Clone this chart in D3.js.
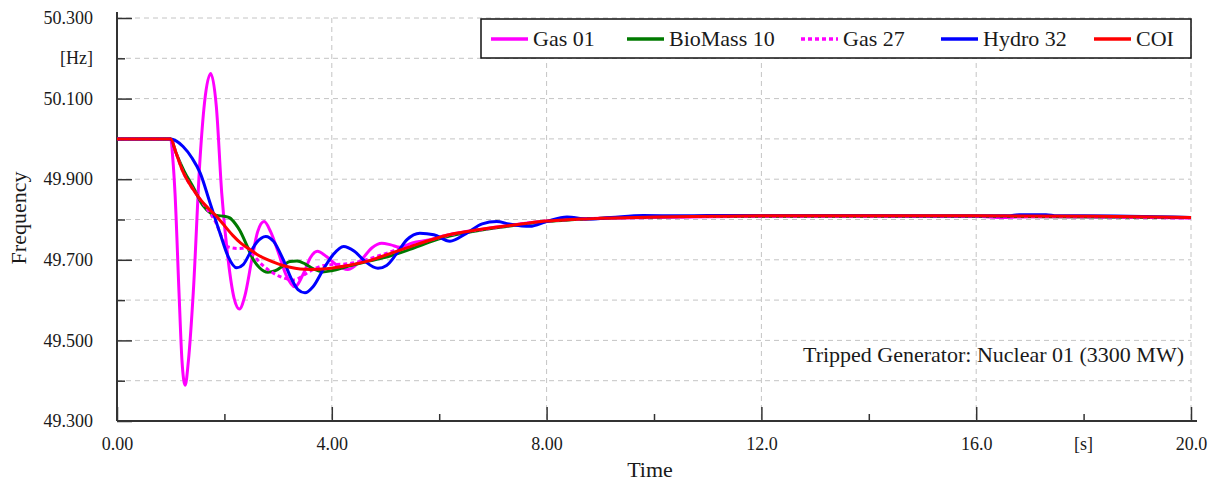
<!DOCTYPE html>
<html>
<head>
<meta charset="utf-8">
<script src="https://cdnjs.cloudflare.com/ajax/libs/d3/7.8.5/d3.min.js"></script>
<style>
    body { margin: 0; background: #fff; }
    #chart-area { width: 1215px; height: 482px; }
    svg text { font-family: "Liberation Serif", "Times New Roman", serif; fill: #1a1a1a; }
</style>
</head>
<body>
<div id="chart-area"></div>
<script>

// frequency traces: [time s, frequency Hz]
let gas01 = [
    [0, 50.0], [1.0, 50.0], [1.04, 49.95], [1.08, 49.866], [1.155, 49.618], [1.21, 49.45], [1.27, 49.389],
    [1.33, 49.45], [1.42, 49.618], [1.545, 49.948], [1.63, 50.09], [1.745, 50.162], [1.85, 50.08],
    [1.95, 49.866], [2.07, 49.70], [2.18, 49.605], [2.28, 49.578], [2.38, 49.61], [2.51, 49.70],
    [2.62, 49.77], [2.74, 49.795], [2.86, 49.77], [3.0, 49.72], [3.15, 49.662], [3.31, 49.633],
    [3.48, 49.668], [3.6, 49.705], [3.73, 49.721], [3.9, 49.708], [4.08, 49.688], [4.3, 49.676],
    [4.55, 49.700], [4.75, 49.730], [4.93, 49.741], [5.1, 49.737], [5.27, 49.731], [5.5, 49.742],
    [5.8, 49.749], [6.1, 49.760], [6.5, 49.770], [7.0, 49.780], [7.5, 49.789], [8.0, 49.796],
    [9.0, 49.803], [10.0, 49.805], [11.0, 49.807], [12.0, 49.808], [14.0, 49.808], [16.0, 49.808],
    [16.5, 49.805], [17.0, 49.807], [18.0, 49.807], [20.0, 49.804]
];

let bioMass10 = [
    [0, 50.0], [1.0, 50.0], [1.1, 49.965], [1.25, 49.92], [1.42, 49.88], [1.6, 49.835], [1.75, 49.815],
    [1.86, 49.81], [2.0, 49.808], [2.1, 49.804], [2.2, 49.79], [2.29, 49.772], [2.42, 49.735],
    [2.54, 49.70], [2.65, 49.681], [2.81, 49.669], [2.95, 49.673], [3.1, 49.686], [3.22, 49.696],
    [3.35, 49.697], [3.5, 49.69], [3.65, 49.678], [3.83, 49.670], [4.0, 49.673], [4.3, 49.684],
    [4.6, 49.694], [5.0, 49.706], [5.5, 49.728], [6.0, 49.752], [6.5, 49.767], [7.0, 49.778],
    [7.5, 49.787], [8.0, 49.795], [9.0, 49.803], [10.0, 49.806], [11.0, 49.808], [12.0, 49.808],
    [16.0, 49.808], [20.0, 49.805]
];

let gas27 = [
    [0, 50.0], [1.0, 50.0], [1.1, 49.965], [1.23, 49.918], [1.4, 49.878], [1.55, 49.85], [1.7, 49.822],
    [1.85, 49.79], [1.95, 49.756], [2.05, 49.733], [2.25, 49.728], [2.42, 49.729], [2.55, 49.71],
    [2.7, 49.688], [2.9, 49.668], [3.1, 49.655], [3.3, 49.650], [3.5, 49.664], [3.7, 49.679],
    [3.95, 49.688], [4.2, 49.689], [4.5, 49.695], [4.8, 49.707], [5.1, 49.72], [5.4, 49.735],
    [5.8, 49.748], [6.2, 49.762], [7.0, 49.779], [8.0, 49.796], [9.0, 49.803], [10.0, 49.806],
    [12.0, 49.808], [16.0, 49.808], [20.0, 49.804]
];

let hydro32 = [
    [0, 50.0], [1.0, 50.0], [1.1, 49.995], [1.23, 49.981], [1.4, 49.952], [1.55, 49.915], [1.73, 49.842],
    [1.92, 49.765], [2.07, 49.708], [2.23, 49.680], [2.35, 49.688], [2.47, 49.715], [2.6, 49.743],
    [2.77, 49.758], [2.92, 49.745], [3.09, 49.702], [3.25, 49.652], [3.37, 49.626], [3.5, 49.618],
    [3.65, 49.633], [3.85, 49.678], [4.02, 49.712], [4.22, 49.733], [4.42, 49.721], [4.62, 49.696],
    [4.86, 49.679], [5.02, 49.686], [5.2, 49.714], [5.4, 49.750], [5.64, 49.766], [5.9, 49.762],
    [6.2, 49.746], [6.5, 49.765], [6.8, 49.789], [7.07, 49.795], [7.3, 49.789], [7.69, 49.783],
    [8.0, 49.795], [8.38, 49.806], [8.75, 49.801], [9.2, 49.805], [9.8, 49.810], [10.5, 49.809],
    [11.0, 49.810], [12.0, 49.810], [14.0, 49.810], [16.0, 49.809], [16.6, 49.809], [16.8, 49.812],
    [17.3, 49.812], [17.5, 49.809], [18.0, 49.809], [20.0, 49.805]
];

let coi = [
    [0, 50.0], [1.0, 50.0], [1.1, 49.965], [1.23, 49.918], [1.4, 49.878], [1.55, 49.850], [1.7, 49.828],
    [1.86, 49.807], [2.0, 49.785], [2.16, 49.760], [2.3, 49.742], [2.47, 49.726], [2.6, 49.714],
    [2.79, 49.701], [3.0, 49.690], [3.2, 49.682], [3.41, 49.677], [3.6, 49.676], [3.9, 49.678],
    [4.3, 49.686], [4.65, 49.696], [4.9, 49.707], [5.27, 49.724], [5.6, 49.739], [5.89, 49.751],
    [6.14, 49.761], [6.6, 49.772], [7.13, 49.782], [7.6, 49.790], [8.0, 49.796], [8.6, 49.801],
    [9.24, 49.804], [10.0, 49.806], [11.1, 49.808], [12.0, 49.809], [14.0, 49.809], [16.0, 49.809],
    [18.0, 49.808], [19.0, 49.807], [20.0, 49.805]
];

let seriesNames = ["Gas 01", "BioMass 10", "Gas 27", "Hydro 32", "COI"];

// axis ticks
let xMajorTicks = [0, 4, 8, 12, 16, 20];
let xMajorLabels = ["0.00", "4.00", "8.00", "12.0", "16.0", "20.0"];
let xMinorTicks = [2, 6, 10, 14, 18];
let yMajorTicks = [49.3, 49.5, 49.7, 49.9, 50.1, 50.3];
let yMajorLabels = ["49.300", "49.500", "49.700", "49.900", "50.100", "50.300"];
let yMinorTicks = [49.4, 49.6, 49.8, 50.0, 50.2];
let yGridTicks = [49.4, 49.5, 49.6, 49.7, 49.8, 49.9, 50.0, 50.1, 50.2, 50.3];

const SERIF = '"Liberation Serif", "Times New Roman", serif';


class FrequencyChart {

    constructor(parentElement, series) {
        this.parentElement = parentElement;
        this.series = series;
        this.initVis();
    }

    initVis() {
        let vis = this;

        vis.margin = {top: 18, right: 24, bottom: 61, left: 117};
        vis.width = 1215 - vis.margin.left - vis.margin.right;
        vis.height = 482 - vis.margin.top - vis.margin.bottom;

        vis.svg = d3.select("#" + vis.parentElement).append("svg")
            .attr("width", 1215)
            .attr("height", 482)
            .attr("font-family", SERIF);

        vis.g = vis.svg.append("g")
            .attr("transform", `translate(${vis.margin.left}, ${vis.margin.top})`);

        // scales
        vis.x = d3.scaleLinear().domain([0, 20]).range([0, vis.width]);
        vis.y = d3.scaleLinear().domain([49.3, 50.3]).range([vis.height, 0]);

        // dashed grid
        vis.g.append("g").attr("class", "grid")
            .selectAll("line.h").data(yGridTicks).enter().append("line")
            .attr("x1", 0).attr("x2", vis.width)
            .attr("y1", d => vis.y(d)).attr("y2", d => vis.y(d));
        vis.g.select(".grid")
            .selectAll("line.v").data(xMajorTicks.slice(1)).enter().append("line")
            .attr("x1", d => vis.x(d)).attr("x2", d => vis.x(d))
            .attr("y1", 0).attr("y2", vis.height);
        vis.g.selectAll(".grid line")
            .attr("stroke", "#c4c4c4")
            .attr("stroke-width", 1)
            .attr("stroke-dasharray", "5,4");

        // axes
        let yAxis = d3.axisLeft(vis.y)
            .tickValues(yMajorTicks)
            .tickFormat((d, i) => yMajorLabels[i])
            .tickSizeInner(-15).tickSizeOuter(0).tickPadding(24);
        let yMinor = d3.axisLeft(vis.y)
            .tickValues(yMinorTicks).tickFormat("")
            .tickSizeInner(-8).tickSizeOuter(0);
        let xAxis = d3.axisBottom(vis.x)
            .tickValues(xMajorTicks)
            .tickFormat((d, i) => xMajorLabels[i])
            .tickSizeInner(-14).tickSizeOuter(0).tickPadding(16);
        let xMinor = d3.axisBottom(vis.x)
            .tickValues(xMinorTicks).tickFormat("")
            .tickSizeInner(-7).tickSizeOuter(0);

        vis.g.append("g").call(yAxis);
        vis.g.append("g").call(yMinor);
        vis.g.append("g").attr("transform", `translate(0, ${vis.height})`).call(xAxis);
        vis.g.append("g").attr("transform", `translate(0, ${vis.height})`).call(xMinor);

        vis.g.selectAll(".domain").remove();
        vis.g.selectAll("g").attr("font-family", SERIF);
        vis.g.selectAll(".tick line").attr("stroke", "#333").attr("stroke-width", 1.5);
        vis.g.selectAll(".tick text").attr("font-size", 18).attr("fill", "#1a1a1a");

        // axis lines, slightly longer than the plot area like the original
        vis.g.append("line")
            .attr("x1", 0).attr("x2", 0).attr("y1", -6).attr("y2", vis.height)
            .attr("stroke", "#333").attr("stroke-width", 2);
        vis.g.append("line")
            .attr("x1", 0).attr("x2", vis.width + 6).attr("y1", vis.height).attr("y2", vis.height)
            .attr("stroke", "#333").attr("stroke-width", 2);

        // units
        vis.g.append("text")
            .attr("x", -24).attr("y", vis.y(50.2)).attr("dy", "0.32em")
            .attr("text-anchor", "end").attr("font-size", 18)
            .text("[Hz]");
        vis.g.append("text")
            .attr("x", vis.x(18)).attr("y", vis.height + 16).attr("dy", "0.71em")
            .attr("text-anchor", "middle").attr("font-size", 18)
            .text("[s]");

        // axis titles
        vis.svg.append("text")
            .attr("x", 650).attr("y", 477)
            .attr("text-anchor", "middle").attr("font-size", 22)
            .text("Time");
        vis.svg.append("text")
            .attr("transform", "translate(26, 218) rotate(-90)")
            .attr("text-anchor", "middle").attr("font-size", 22)
            .text("Frequency");

        // annotation
        vis.svg.append("text")
            .attr("x", 1184).attr("y", 362)
            .attr("text-anchor", "end").attr("font-size", 22)
            .text("Tripped Generator: Nuclear 01 (3300 MW)");

        vis.line = d3.line()
            .x(d => vis.x(d[0]))
            .y(d => vis.y(d[1]))
            .curve(d3.curveMonotoneX);

        vis.updateVis();
    }

    updateVis() {
        let vis = this;

        vis.g.selectAll(".trace")
            .data(vis.series)
            .enter().append("path")
            .attr("class", "trace")
            .attr("d", d => vis.line(d.values))
            .attr("fill", "none")
            .attr("stroke", d => d.color)
            .attr("stroke-width", 3)
            .attr("stroke-dasharray", d => d.dash)
            .attr("stroke-linejoin", "round");

        vis.drawLegend();
    }

    drawLegend() {
        let vis = this;

        let legend = vis.svg.append("g").attr("class", "legend");
        legend.append("rect")
            .attr("x", 481).attr("y", 19)
            .attr("width", 710).attr("height", 39)
            .attr("fill", "#fff")
            .attr("stroke", "#111").attr("stroke-width", 1.5);

        let entryX = [491, 627, 801, 941, 1094];
        let items = legend.selectAll(".item")
            .data(vis.series)
            .enter().append("g")
            .attr("class", "item")
            .attr("transform", (d, i) => `translate(${entryX[i]}, 39)`);

        items.append("line")
            .attr("x1", 0).attr("x2", 37).attr("y1", 0).attr("y2", 0)
            .attr("stroke", d => d.color)
            .attr("stroke-width", 3.5)
            .attr("stroke-dasharray", d => d.dash);

        items.append("text")
            .attr("x", 42).attr("y", 7)
            .attr("font-size", 22)
            .text(d => d.name);
    }
}

let allSeries = [
    {name: seriesNames[0], values: gas01, color: "#ff00ff", dash: null},
    {name: seriesNames[1], values: bioMass10, color: "#007a00", dash: null},
    {name: seriesNames[2], values: gas27, color: "#ff00ff", dash: "4,3"},
    {name: seriesNames[3], values: hydro32, color: "#0000ff", dash: null},
    {name: seriesNames[4], values: coi, color: "#ff0000", dash: null}
];

let chart = new FrequencyChart("chart-area", allSeries);

</script>
</body>
</html>
